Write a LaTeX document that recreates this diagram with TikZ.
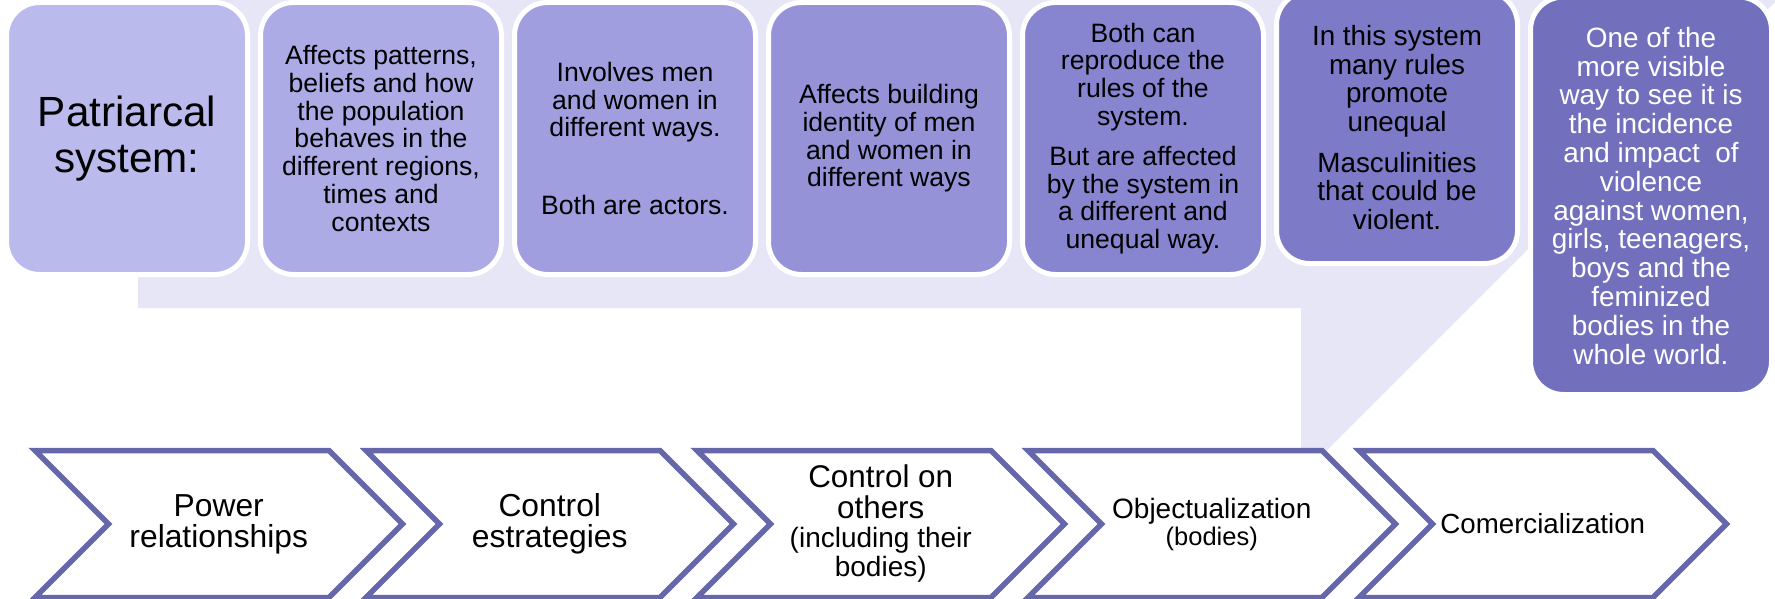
\documentclass[tikz,border=0pt]{standalone}
\usepackage{fontspec}
\setmainfont{Liberation Sans}
\definecolor{bgl}{RGB}{230,230,246}
\definecolor{cA}{RGB}{187,186,237}
\definecolor{cB}{RGB}{173,171,230}
\definecolor{cC}{RGB}{160,158,223}
\definecolor{cD}{RGB}{149,146,215}
\definecolor{cE}{RGB}{136,133,208}
\definecolor{cF}{RGB}{125,122,200}
\definecolor{cG}{RGB}{114,111,189}
\definecolor{chevline}{RGB}{102,102,170}
\begin{document}
\begin{tikzpicture}[x=1pt,y=-1pt,
  box/.style={draw=white, line width=5pt, rounded corners=33pt, minimum width=241pt,
    minimum height=272pt, inner sep=0pt, align=center, text=black,
    font=\fontsize{26.6}{27.7}\selectfont},
  chev/.style={draw=chevline, line width=5.5pt, line join=miter, fill=white},
  chevtext/.style={align=center, inner sep=0pt, text=black,
    font=\fontsize{31.8}{31}\selectfont}]
\useasboundingbox (0,0) rectangle (1775,599);
% background callout
\fill[bgl] (138,0) -- (1775,0) -- (1775,2) -- (1301,476) -- (1301,308) -- (138,308) -- cycle;
% top boxes
\node[box, fill=cA, font=\fontsize{42.2}{46}\selectfont] (b1) at (127,138.5) {Patriarcal\\system:};
\node[box, fill=cB] (b2) at (381,138.5) {Affects patterns,\\beliefs and how\\the population\\behaves in the\\different regions,\\times and\\contexts};
\node[box, fill=cC] (b3) at (635,138.5) {Involves men\\and women in\\different ways.\\[50pt]Both are actors.};
\node[box, fill=cD] (b4) at (889,138.5) {Affects building\\identity of men\\and women in\\different ways};
\node[box, fill=cE] (b5) at (1143,138.5) {Both can\\reproduce the\\rules of the\\system.\\[12.5pt]But are affected\\by the system in\\a different and\\unequal way.};
\node[box, fill=cF, font=\fontsize{27.8}{28.5}\selectfont] (b6) at (1397,127.5) {In this system\\many rules\\promote\\unequal\\[12.5pt]Masculinities\\that could be\\violent.};
\node[box, fill=cG, minimum height=397.5pt, text=white, font=\fontsize{27.9}{28.8}\selectfont] (b7) at (1651,195.75) {One of the\\more visible\\way to see it is\\the incidence\\and impact\ \ of\\violence\\against women,\\girls, teenagers,\\boys and the\\feminized\\bodies in the\\whole world.};
% chevrons
\foreach \a in {35,366,697,1028,1359}{
  \draw[chev] (\a,450.5) -- ++(294,0) -- ++(73.5,73.5) -- ++(-73.5,73.5) -- ++(-294,0) -- ++(73.5,-73.5) -- cycle;
}
\node[chevtext] (c1) at (218.75,524) {Power\\relationships};
\node[chevtext] (c2) at (549.75,524) {Control\\estrategies};
\node[chevtext, font=\fontsize{31.4}{31}\selectfont] (c3) at (880.75,524) {Control on\\others\\[-2pt]{\fontsize{28}{29}\selectfont (including their}\\[-2pt]{\fontsize{28}{29}\selectfont bodies)}};
\node[chevtext, font=\fontsize{28}{29}\selectfont] (c4) at (1211.75,524) {Objectualization\\[-2pt]{\fontsize{25.5}{27}\selectfont (bodies)}};
\node[chevtext, font=\fontsize{27.7}{29}\selectfont] (c5) at (1542.75,524) {Comercialization};
\end{tikzpicture}
\end{document}
